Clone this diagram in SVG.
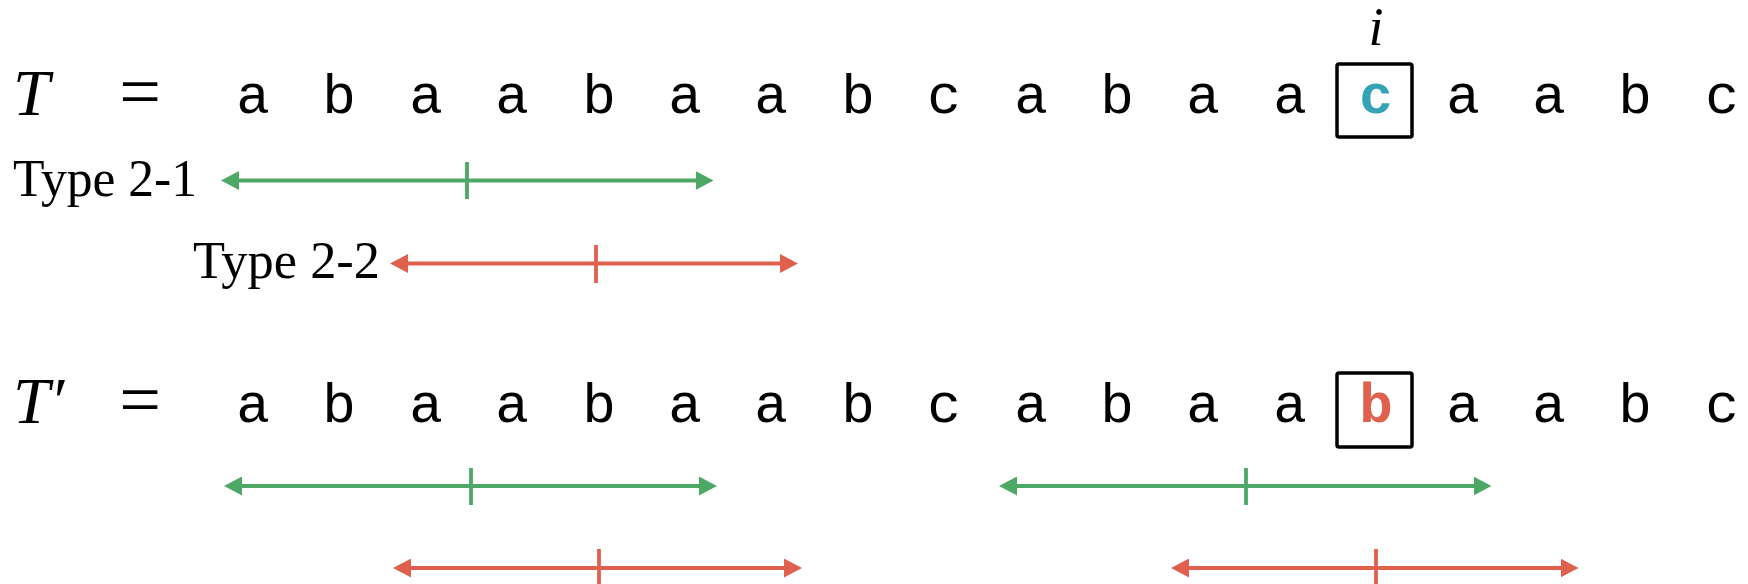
<svg xmlns="http://www.w3.org/2000/svg" width="1748" height="584" viewBox="0 0 1748 584">
<style>
  .lbl { font-family: "Liberation Serif", "Times New Roman", serif; fill: #000; }
  .it { font-style: italic; }
  .ch { font-family: "Liberation Mono", "Courier New", monospace; font-size: 56px; fill: #000; text-anchor: middle; }
  .bold { font-weight: bold; }
  .box { fill: none; stroke: #000; stroke-width: 3.5; }
  .g { stroke: #4DA866; stroke-width: 3.8; fill: none; }
  .r { stroke: #E0604E; stroke-width: 3.8; fill: none; }
  .g.arr { marker-start: url(#ag); marker-end: url(#ag); }
  .r.arr { marker-start: url(#ar); marker-end: url(#ar); }
</style>
<defs>
  <marker id="ag" viewBox="0 0 18 19" refX="9" refY="9.5" markerWidth="18" markerHeight="19" markerUnits="userSpaceOnUse" orient="auto-start-reverse">
    <path d="M0,0 L18,9.5 L0,19 z" fill="#4DA866"/>
  </marker>
  <marker id="ar" viewBox="0 0 18 19" refX="9" refY="9.5" markerWidth="18" markerHeight="19" markerUnits="userSpaceOnUse" orient="auto-start-reverse">
    <path d="M0,0 L18,9.5 L0,19 z" fill="#E0604E"/>
  </marker>
</defs>
<rect width="1748" height="584" fill="#fff"/>

<g id="row-T">
  <text class="lbl it" x="13" y="115" font-size="66">T</text>
  <text class="lbl" x="140" y="116" font-size="74" text-anchor="middle">=</text>
  <text class="ch" y="113">
    <tspan x="253">a</tspan><tspan x="339">b</tspan><tspan x="426">a</tspan><tspan x="512">a</tspan><tspan x="599">b</tspan><tspan x="685">a</tspan><tspan x="771">a</tspan><tspan x="858">b</tspan><tspan x="944">c</tspan><tspan x="1031">a</tspan><tspan x="1117">b</tspan><tspan x="1203">a</tspan><tspan x="1290">a</tspan><tspan x="1463">a</tspan><tspan x="1549">a</tspan><tspan x="1635">b</tspan><tspan x="1722">c</tspan>
  </text>
</g>
<g id="pos-i">
  <text class="lbl it" x="1376" y="45" font-size="54" text-anchor="middle">i</text>
</g>
<g id="box-T">
  <rect class="box" x="1337" y="64" width="75" height="73" rx="2"/>
  <text class="ch bold" x="1376" y="113" style="fill:#34A3B5">c</text>
</g>

<g id="label-21">
  <text class="lbl" x="13" y="196" font-size="52" textLength="184" lengthAdjust="spacingAndGlyphs">Type 2-1</text>
</g>
<g id="label-22">
  <text class="lbl" x="193" y="278" font-size="52" textLength="187" lengthAdjust="spacingAndGlyphs">Type 2-2</text>
</g>

<g id="row-Tp">
  <text class="lbl it" x="13" y="423" font-size="66">T′</text>
  <text class="lbl" x="140" y="424" font-size="74" text-anchor="middle">=</text>
  <text class="ch" y="422">
    <tspan x="253">a</tspan><tspan x="339">b</tspan><tspan x="426">a</tspan><tspan x="512">a</tspan><tspan x="599">b</tspan><tspan x="685">a</tspan><tspan x="771">a</tspan><tspan x="858">b</tspan><tspan x="944">c</tspan><tspan x="1031">a</tspan><tspan x="1117">b</tspan><tspan x="1203">a</tspan><tspan x="1290">a</tspan><tspan x="1463">a</tspan><tspan x="1549">a</tspan><tspan x="1635">b</tspan><tspan x="1722">c</tspan>
  </text>
</g>
<g id="box-Tp">
  <rect class="box" x="1337" y="373" width="75" height="74" rx="2"/>
  <text class="ch bold" x="1376" y="422" style="fill:#E0604E">b</text>
</g>

<g id="connectors">
  <line class="g arr" x1="230" y1="180.5" x2="704.5" y2="180.5"/>
  <line class="g" x1="467" y1="162" x2="467" y2="199"/>
  <line class="r arr" x1="399" y1="263.5" x2="789" y2="263.5"/>
  <line class="r" x1="596" y1="245" x2="596" y2="283"/>

  <line class="g arr" x1="233" y1="486" x2="708" y2="486"/>
  <line class="g" x1="471" y1="468" x2="471" y2="505"/>
  <line class="g arr" x1="1008" y1="486" x2="1482.5" y2="486"/>
  <line class="g" x1="1246" y1="468" x2="1246" y2="505"/>

  <line class="r arr" x1="402" y1="568" x2="793" y2="568"/>
  <line class="r" x1="599" y1="549" x2="599" y2="590"/>
  <line class="r arr" x1="1180" y1="568" x2="1569.5" y2="568"/>
  <line class="r" x1="1376" y1="549" x2="1376" y2="590"/>
</g>
</svg>
